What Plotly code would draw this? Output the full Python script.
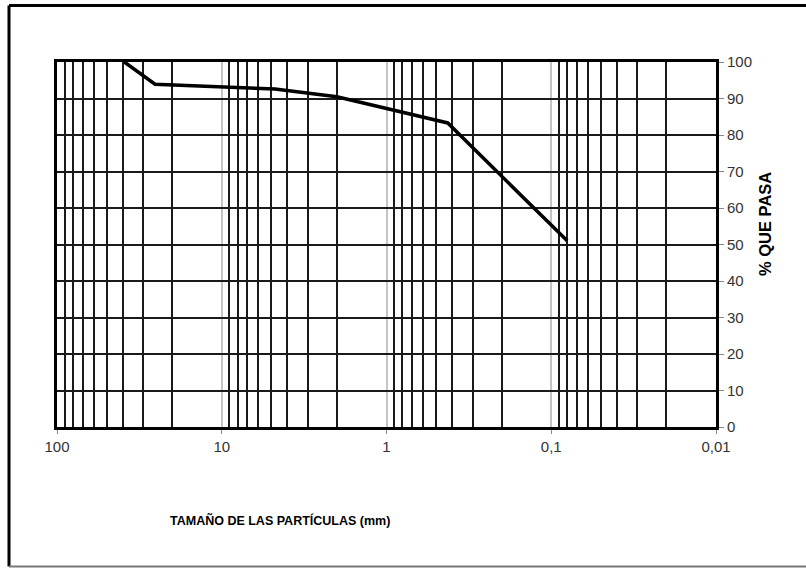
import plotly.graph_objects as go

# Data
size_mm = [39.0, 25.4, 4.75, 2.0, 0.425, 0.08]
pct_pass = [100.0, 93.9, 92.6, 90.5, 83.3, 51.0]

x_major = [100, 10, 1, 0.1, 0.01]
x_major_text = ["100", "10", "1", "0,1", "0,01"]
x_minor = [m * d for d in [0.01, 0.1, 1, 10] for m in range(2, 10)]
y_ticks = list(range(0, 101, 10))

W, H = 806, 568
L, R, T, B = 57, 90, 62, 141
pw, ph = W - L - R, H - T - B

def px(x):
    return (x - L) / pw

def py(y):
    return (H - B - y) / ph

fig = go.Figure()
fig.add_trace(go.Scatter(
    x=size_mm, y=pct_pass, mode="lines",
    line=dict(color="black", width=3.5),
    showlegend=False, cliponaxis=True,
))

font = dict(family="Liberation Sans, Arial, sans-serif", size=15, color="#333")
xt_font = dict(family="Liberation Sans, Arial, sans-serif", size=12.5, color="black")
yt_font = dict(family="Liberation Sans, Arial, sans-serif", size=16.5, color="black")

fig.update_layout(
    width=W, height=H,
    margin=dict(l=L, r=R, t=T, b=B),
    paper_bgcolor="white", plot_bgcolor="white",
    font=font,
    xaxis=dict(
        type="log", range=[2, -2],
        tickmode="array", tickvals=x_major, ticktext=x_major_text,
        showgrid=True, gridcolor="#c4c4c4", gridwidth=1.5,
        ticks="outside", ticklen=4, tickcolor="#888", tickwidth=1,
        showline=True, linecolor="black", linewidth=3, mirror=True,
        minor=dict(tickmode="array", tickvals=x_minor, showgrid=True,
                   gridcolor="#1a1a1a", gridwidth=2, ticks=""),
        zeroline=False, tickfont=font,
    ),
    yaxis=dict(
        side="right", range=[0, 100],
        tickmode="array", tickvals=y_ticks,
        showgrid=True, gridcolor="#1a1a1a", gridwidth=2,
        ticks="outside", ticklen=5, tickcolor="#888", tickwidth=1,
        showline=True, linecolor="black", linewidth=3, mirror=True,
        zeroline=False, tickfont=font,
    ),
    annotations=[
        dict(text="<b>% QUE PASA</b>", x=px(765), y=py(224), xref="paper", yref="paper",
             xanchor="center", yanchor="middle",
             textangle=-90, showarrow=False, font=yt_font),
        dict(text="<b>TAMAÑO DE LAS PARTÍCULAS (mm)</b>", x=px(280), y=py(520),
             xref="paper", yref="paper", xanchor="center", yanchor="middle",
             showarrow=False, font=xt_font),
    ],
    shapes=[
        dict(type="line", xref="paper", yref="paper", x0=px(9), x1=px(806), y0=py(5.5), y1=py(5.5),
             line=dict(color="black", width=3)),
        dict(type="line", xref="paper", yref="paper", x0=px(9), x1=px(9), y0=py(5.5), y1=py(566.5),
             line=dict(color="black", width=3)),
        dict(type="line", xref="paper", yref="paper", x0=px(9), x1=px(806), y0=py(566.5), y1=py(566.5),
             line=dict(color="#777", width=2)),
    ],
)

fig.write_html("out.html", config={"displayModeBar": False},
               post_script="document.body.style.margin='0';")
